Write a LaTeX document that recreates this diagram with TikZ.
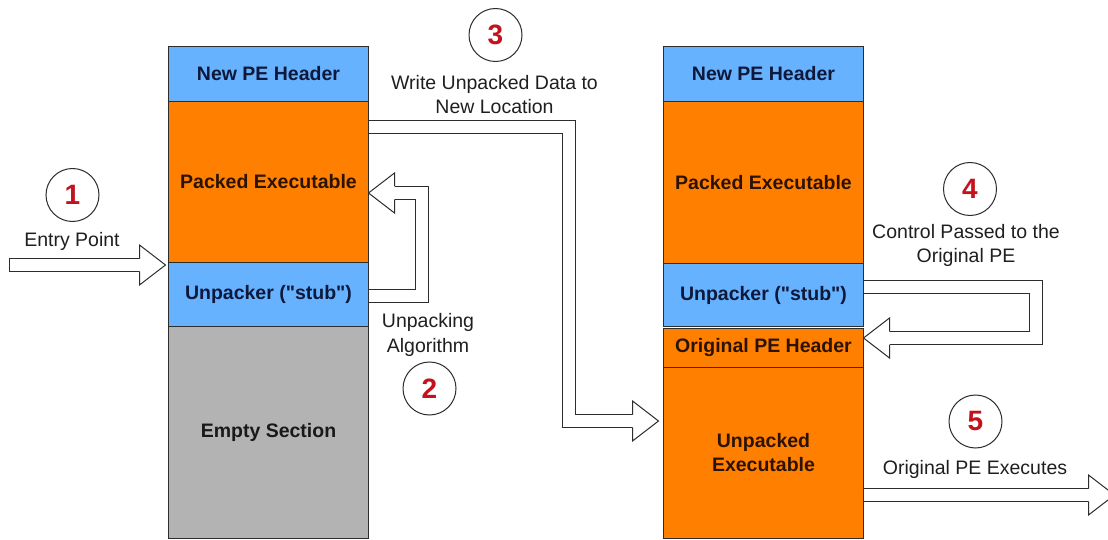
\documentclass[tikz,border=0pt]{standalone}
\usepackage{fontspec}
\setmainfont{Liberation Sans}
\newfontfamily\boxfont{Liberation Sans}
\usetikzlibrary{positioning,calc}
\definecolor{HeaderBlue}{RGB}{102,178,255}
\definecolor{PackOrange}{RGB}{255,128,0}
\definecolor{EmptyGray}{RGB}{179,179,179}
\definecolor{StepRed}{RGB}{196,18,28}
\definecolor{BlueInk}{RGB}{14,24,58}
\definecolor{OrangeInk}{RGB}{44,18,0}
\definecolor{EdgeGray}{RGB}{45,45,45}
\tikzset{
  section/.style={
    draw=EdgeGray,
    line width=1pt,
    minimum width=200pt,
    outer sep=0pt,
    inner sep=0pt,
    align=center,
    font=\boxfont\fontsize{19.5}{24}\selectfont\bfseries
  },
  bluesec/.style={section, fill=HeaderBlue, text=BlueInk},
  orangesec/.style={section, fill=PackOrange, text=OrangeInk},
  graysec/.style={section, fill=EmptyGray, text=black!90},
  stepcircle/.style={
    circle,
    draw=EdgeGray,
    line width=1pt,
    minimum size=53pt,
    inner sep=0pt,
    text=StepRed,
    font=\fontsize{28}{28}\selectfont\bfseries
  },
  steplabel/.style={
    align=center,
    text=black!88,
    font=\fontsize{19.5}{24.5}\selectfont
  },
  shaft/.style={
    draw=EdgeGray,
    line width=1pt,
    double=white,
    double distance=12pt
  },
  headline/.style={
    draw=EdgeGray,
    fill=white,
    line width=1pt,
    line join=miter
  }
}
% open arrow head: tip coordinate, direction (1 right, -1 left)
\newcommand{\hollowhead}[2]{%
  \draw[headline] ($(#1)+({-26*#2},-6.5)$) -- ++(0,-13.5) -- (#1)
    -- ($(#1)+({-26*#2},20)$) -- ++(0,-13.5);}

\begin{document}
\begin{tikzpicture}[x=1pt, y=-1pt]
\path[use as bounding box, fill=white] (0,0) rectangle (1108,540);

% packed file
\node[bluesec, minimum height=55pt, anchor=north west] (lhdr) at (168.5,46.5) {New PE Header};
\node[orangesec, minimum height=161pt, below=0pt of lhdr] (lpack) {Packed Executable};
\node[bluesec, minimum height=64pt, below=0pt of lpack] (lstub) {Unpacker ("stub")};
\node[graysec, minimum height=212pt, below=0pt of lstub] (lempty) {Empty Section};

% file after unpacking
\node[bluesec, minimum height=55pt, anchor=north west] (rhdr) at (663.5,46.5) {New PE Header};
\node[orangesec, minimum height=162pt, below=0pt of rhdr] (rpack) {Packed Executable};
\node[bluesec, minimum height=63pt, below=0pt of rpack] (rstub) {Unpacker ("stub")};
\node[orangesec, minimum height=39pt, below=1.5pt of rstub] (rorig) {Original PE Header};
\node[orangesec, minimum height=171pt, below=0pt of rorig] (runpack) {Unpacked\\Executable};

% step numbers and captions
\node[stepcircle] (n1) at (72.5,195) {1};
\node[steplabel] (l1) at (72,241) {Entry Point};
\node[stepcircle] (n2) at (429.5,388.5) {2};
\node[steplabel] (l2) at (428,335) {Unpacking\\Algorithm};
\node[stepcircle] (n3) at (495.5,35) {3};
\node[steplabel] (l3) at (494.5,94.5) {Write Unpacked Data to\\New Location};
\node[stepcircle] (n4) at (970,189) {4};
\node[steplabel] (l4) at (966,245.5) {Control Passed to the\\Original PE};
\node[stepcircle] (n5) at (975.5,421.5) {5};
\node[steplabel] (l5) at (975,469) {Original PE Executes};

% arrow ends
\coordinate (entry) at (9.5,265);
\coordinate (tip1) at ($(lstub.north west)+(-3,2.5)$);
\coordinate (tip2) at ($(lpack.east)+(0,11)$);
\coordinate (tip3) at ($(runpack.west)+(-5,-31.5)$);
\coordinate (tip4) at ($(rorig.north east)+(0,10)$);
\coordinate (tip5) at ($(runpack.east)+(251,42.5)$);

% 1: entry point
\draw[shaft] (entry) -- ($(tip1)+(-26,0)$);
\draw[draw=EdgeGray, line width=1pt] ($(entry)+(0,-7)$) -- ($(entry)+(0,7)$);
\hollowhead{tip1}{1}

% 2: stub unpacks the data
\draw[shaft] ($(lstub.east)+(0,1.5)$) -- ++(53.5,0) |- ($(tip2)+(26,0)$);
\hollowhead{tip2}{-1}

% 3: write to new location
\draw[shaft] ($(lpack.north east)+(0,25.5)$) -- ++(200.5,0) |- ($(tip3)+(-26,0)$);
\hollowhead{tip3}{1}

% 4: jump to original entry
\draw[shaft] ($(rstub.east)+(0,-8)$) -- ++(172.5,0) |- ($(tip4)+(26,0)$);
\hollowhead{tip4}{-1}

% 5: original code runs
\draw[shaft] ($(runpack.east)+(0,42.5)$) -- ($(tip5)+(-26,0)$);
\hollowhead{tip5}{1}
\end{tikzpicture}
\end{document}
